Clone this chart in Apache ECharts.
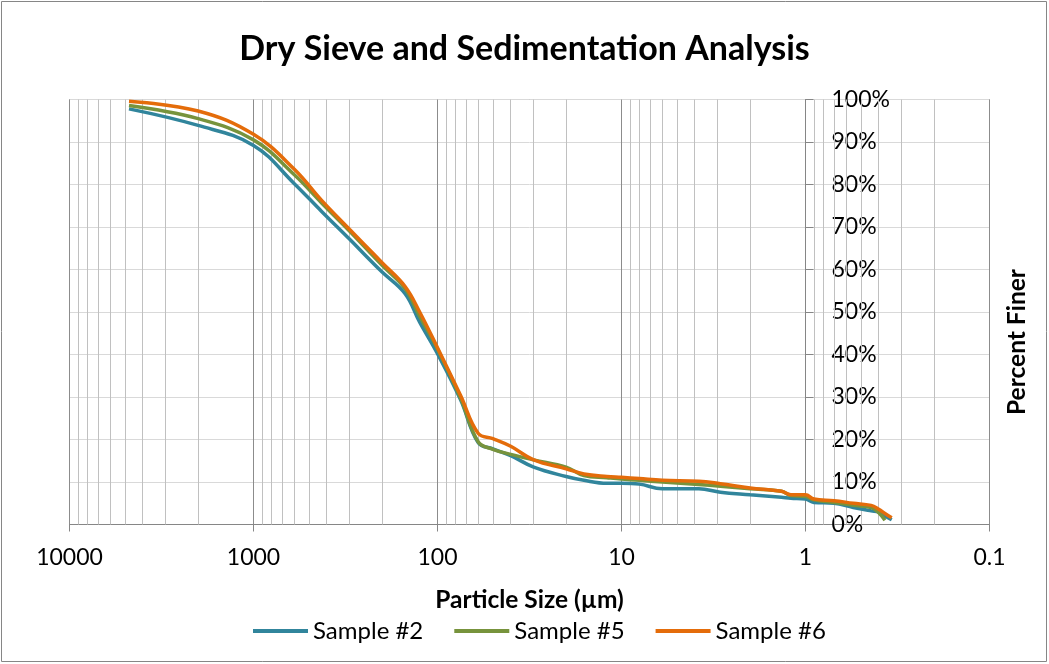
<!DOCTYPE html>
<html>
<head>
<meta charset="utf-8">
<script src="https://cdn.jsdelivr.net/npm/echarts@6/dist/echarts.min.js"></script>
<style>
  html, body { margin: 0; padding: 0; background: #fff; }
  #chart { width: 1049px; height: 664px; }
</style>
</head>
<body>
<div id="chart"></div>
<script>
// particle sizes (µm)
const sizes = [4750, 2000, 1000, 600, 425, 300, 250, 200, 150, 125, 100, 75, 60, 50, 40, 30, 20, 16, 12, 10, 8, 6, 3.8, 2.9, 2, 1.35, 1.2, 1, 0.9, 0.7, 0.55, 0.44, 0.4, 0.37, 0.34];

// percent finer per sample
const sample2 = [97.8, 93.9, 89.2, 80.2, 73.6, 67.1, 63.6, 59.4, 54.3, 47.6, 40.2, 29.4, 19.2, 17.8, 16.2, 13.5, 11.3, 10.4, 9.7, 9.7, 9.5, 8.4, 8.4, 7.6, 7.0, 6.4, 6.2, 6.0, 5.2, 5.0, 4.0, 3.2, 2.9, 2.0, 1.1];
const sample5 = [98.6, 95.5, 90.5, 82.3, 75.6, 69.0, 65.4, 61.0, 55.5, 49.0, 41.3, 29.8, 19.4, 17.7, 16.5, 15.2, 13.5, 11.5, 11.0, 10.7, 10.4, 10.0, 9.4, 9.0, 8.4, 7.8, 6.8, 6.6, 5.8, 5.2, 4.5, 4.0, 2.8, 1.0, null];
const sample6 = [99.6, 97.3, 91.8, 83.6, 76.2, 69.4, 65.9, 61.6, 56.0, 50.0, 41.6, 30.4, 21.4, 20.2, 18.4, 15.2, 13.1, 11.9, 11.3, 11.1, 10.8, 10.4, 10.2, 9.6, 8.6, 7.8, 7.0, 7.0, 6.0, 5.6, 5.0, 4.5, 3.6, 2.6, 1.6];

const seriesNames = ["Sample #2", "Sample #5", "Sample #6"];
const seriesColors = ["#31859C", "#77933C", "#E46C0A"];

// log paper minor grid: 2..9 within each decade
const decades = [0.1, 1, 10, 100, 1000];
const multipliers = [2, 3, 4, 5, 6, 7, 8, 9];
const minorTicks = [];
decades.forEach((d) => multipliers.forEach((m) => minorTicks.push(+(d * m).toPrecision(3))));

const FONT = "Lato";

const pairs = (vals) => sizes.map((s, i) => [s, vals[i]]);

const chart = echarts.init(document.getElementById("chart"), null, { renderer: "canvas" });

const series = [sample2, sample5, sample6].map((vals, i) => ({
  name: seriesNames[i],
  type: "line",
  data: pairs(vals),
  smooth: 0.4,
  symbol: "none",
  z: 3,
  lineStyle: { width: 3.5, color: seriesColors[i] },
  itemStyle: { color: seriesColors[i] },
}));

// minor vertical grid lines hang off the first series
series[0].markLine = {
  silent: true,
  z: 1,
  symbol: ["none", "none"],
  label: { show: false },
  lineStyle: { type: "solid", width: 1, color: "#c0c0c0" },
  emphasis: { disabled: true },
  animation: false,
  data: minorTicks.map((v) => ({ xAxis: v })),
};

chart.setOption({
  animation: false,
  title: {
    text: "Dry Sieve and Sedimentation Analysis",
    left: "center",
    top: 27,
    textStyle: { fontFamily: FONT, fontWeight: "bold", fontSize: 34, color: "#000" },
  },
  grid: {
    left: 69.5,
    right: 59.5,
    top: 99.5,
    bottom: 139.5,
    show: true,
    borderColor: "#a6a6a6",
    borderWidth: 1,
  },
  legend: {
    left: 248,
    top: 614,
    icon: "rect",
    itemWidth: 55,
    itemHeight: 4,
    itemGap: 31,
    textStyle: { fontFamily: FONT, fontSize: 24, color: "#000" },
    data: seriesNames,
  },
  xAxis: {
    type: "log",
    logBase: 10,
    min: 0.1,
    max: 10000,
    inverse: true,
    name: "Particle Size (µm)",
    nameLocation: "middle",
    nameGap: 63,
    nameTextStyle: { fontFamily: FONT, fontWeight: "bold", fontSize: 24.5, color: "#000" },
    axisLine: { lineStyle: { color: "#868686", width: 1 } },
    axisTick: { show: true, length: 7, lineStyle: { color: "#868686" } },
    axisLabel: {
      fontFamily: FONT,
      fontSize: 23,
      color: "#000",
      margin: 22,
      formatter: (v) => String(+v.toPrecision(3)),
    },
    splitLine: { show: true, lineStyle: { color: "#8c8c8c", width: 1 } },
    minorTick: { show: false },
  },
  yAxis: {
    type: "value",
    min: 0,
    max: 100,
    interval: 10,
    position: "right",
    offset: -184,
    axisLine: { show: true, lineStyle: { color: "#868686", width: 1 } },
    axisTick: { show: true, length: 8, lineStyle: { color: "#868686" } },
    axisLabel: {
      fontFamily: FONT,
      fontSize: 23,
      color: "#000",
      margin: 26,
      formatter: "{value}%",
    },
    splitLine: { show: true, lineStyle: { color: "#d9d9d9", width: 1 } },
  },
  graphic: [
    {
      type: "rect",
      silent: true,
      shape: { x: 1.5, y: 1.5, width: 1045, height: 660 },
      style: { fill: null, stroke: "#868686", lineWidth: 1 },
    },
    {
      // y-axis title, placed where the reference has it
      type: "text",
      silent: true,
      x: 1017,
      y: 342,
      rotation: Math.PI / 2,
      style: {
        text: "Percent Finer",
        fontFamily: FONT,
        fontWeight: "bold",
        fontSize: 24.5,
        fill: "#000",
        textAlign: "center",
        textVerticalAlign: "middle",
      },
    },
  ],
  series,
});
</script>
</body>
</html>
